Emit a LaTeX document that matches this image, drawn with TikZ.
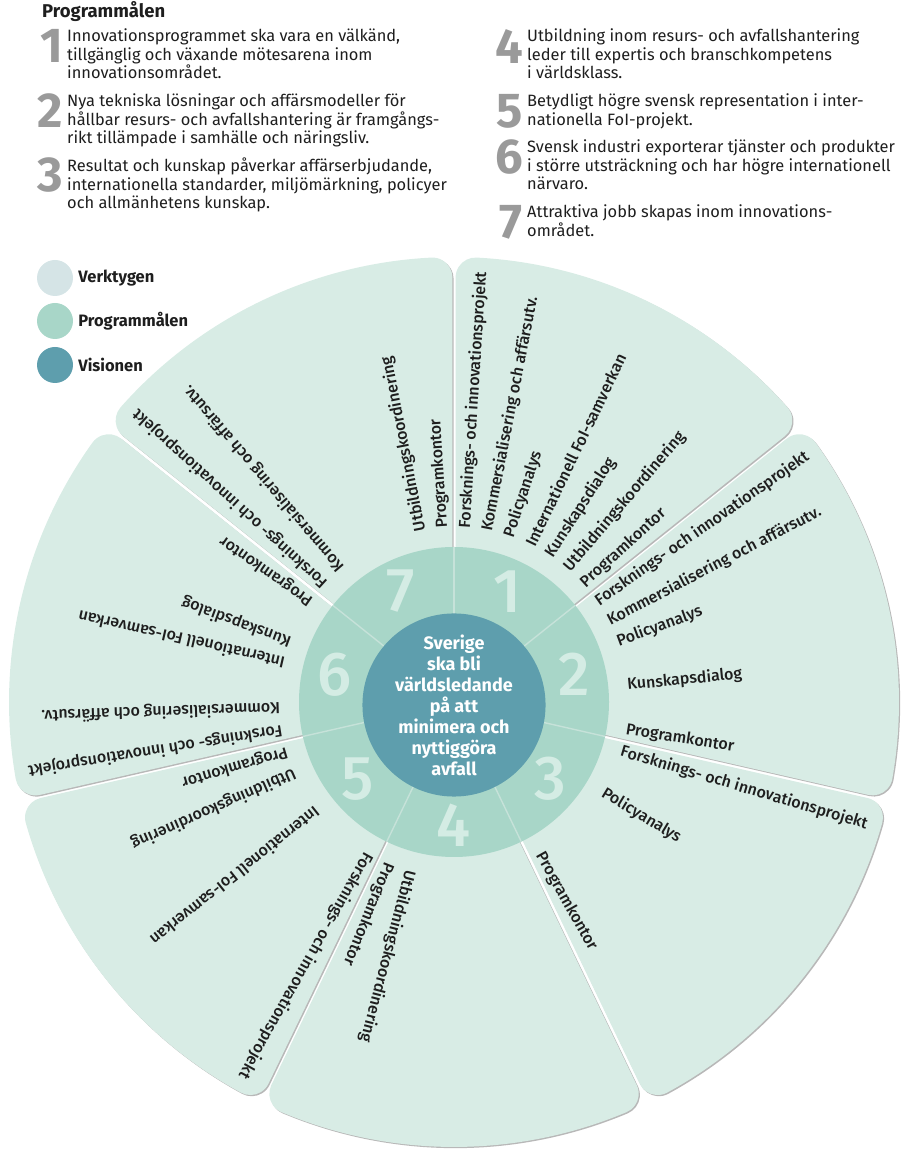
\documentclass[tikz,border=0pt]{standalone}
\usepackage{fontspec}
\setmainfont{Fira Sans}
\newfontfamily\medfont{Fira Sans Medium}
\usepackage{tikz}
\usetikzlibrary{calc,positioning}
\definecolor{mint}{HTML}{D8ECE5}
\definecolor{goalc}{HTML}{A8D6C8}
\definecolor{vision}{HTML}{5E9EAD}
\definecolor{tool}{HTML}{D5E4E6}
\definecolor{ringnumc}{HTML}{D4ECE4}
\definecolor{ringlinec}{HTML}{C6E2D9}
\definecolor{numgrey}{HTML}{9A9A9A}
\definecolor{ink}{HTML}{1E1E1E}

% one petal of the wheel: style, from angle, to angle
\def\Ro{445} \def\rc{20} \def\gp{1.6} \def\Ri{140}
\newcommand{\petal}[3]{%
  \pgfmathsetmacro\dlt{asin((\rc+\gp)/(\Ro-\rc))}%
  \pgfmathsetmacro\Lc{(\Ro-\rc)*cos(\dlt)}%
  \fill[#1] ($(O)+(#2:\Ri)+(#2+90:\gp)$) -- ($(O)+(#2:\Lc)+(#2+90:\gp)$)
    arc[start angle=#2-90,end angle=#2+\dlt,radius=\rc]
    arc[start angle=#2+\dlt,end angle=#3-\dlt,radius=\Ro]
    arc[start angle=#3-\dlt,end angle=#3+90,radius=\rc]
    -- ($(O)+(#3:\Ri)+(#3-90:\gp)$) -- cycle;}

\begin{document}
\begin{tikzpicture}[x=1pt,y=1pt,
  goal/.style={anchor=north west,align=left,inner sep=0pt,text=ink,
    font=\fontsize{16.4}{18.4}\selectfont},
  goalnum/.style={anchor=north east,inner sep=0pt,xshift=-4pt,text=numgrey,
    font=\fontsize{49}{49}\selectfont\bfseries},
  dot/.style={circle,inner sep=0pt,minimum size=36pt},
  legend/.style={inner sep=0pt,text=ink,font=\fontsize{16.5}{18}\selectfont\bfseries},
  shade/.style={fill=black!28,transform canvas={shift={(1.2,-1.2)}}},
  leaf/.style={fill=mint},
  ringline/.style={draw=ringlinec,line width=1.4pt},
  ringnum/.style={inner sep=0pt,text=ringnumc,font=\fontsize{62}{62}\selectfont\medfont},
  lbl/.style={anchor=west,inner sep=0pt,text=ink,font=\fontsize{16}{18}\selectfont\medfont}
]
\useasboundingbox (0,0) rectangle (912,1158);
\coordinate (O) at (454,456);

% Programmålen
\node[anchor=west,inner sep=0pt,text=ink,font=\fontsize{18.5}{20}\selectfont\bfseries] (head) at (42,1146) {Programmålen};
\node[goal] (t1) at (67,1129) {Innovationsprogrammet ska vara en välkänd,\\tillgänglig och växande mötesarena inom\\innovationsområdet.};
\node[goal] (t2) at (67,1064) {Nya tekniska lösningar och affärsmodeller för\\hållbar resurs- och avfallshantering är framgångs-\\rikt tillämpade i samhälle och näringsliv.};
\node[goal] (t3) at (67,1000) {Resultat och kunskap påverkar affärserbjudande,\\internationella standarder, miljömärkning, policyer\\och allmänhetens kunskap.};
\node[goal] (t4) at (527,1129) {Utbildning inom resurs- och avfallshantering\\leder till expertis och branschkompetens\\i världsklass.};
\node[goal] (t5) at (527,1064) {Betydligt högre svensk representation i inter-\\nationella FoI-projekt.};
\node[goal] (t6) at (527,1018) {Svensk industri exporterar tjänster och produkter\\i större utsträckning och har högre internationell\\närvaro.};
\node[goal] (t7) at (527,953) {Attraktiva jobb skapas inom innovations-\\området.};
\foreach \i in {1,...,7}
  \node[goalnum] (n\i) at (t\i.north west) {\i};

% legend
\node[dot,fill=tool] (dT) at (55,880) {};
\node[dot,fill=goalc] (dP) at (55,837) {};
\node[dot,fill=vision] (dV) at (55,793) {};
\node[legend,right=5pt of dT] (lT) {Verktygen};
\node[legend,right=5pt of dP] (lP) {Programmålen};
\node[legend,right=5pt of dV] (lV) {Visionen};

% verktygen
\foreach \k in {1,...,7} {
  \pgfmathsetmacro\aA{90-\k*360/7}
  \pgfmathsetmacro\aB{90-(\k-1)*360/7}
  \petal{shade}{\aA}{\aB}
}
\foreach \k in {1,...,7} {
  \pgfmathsetmacro\aA{90-\k*360/7}
  \pgfmathsetmacro\aB{90-(\k-1)*360/7}
  \petal{leaf}{\aA}{\aB}
}
\foreach \k/\j/\txt in {
  1/1/Forsknings- och innovationsprojekt, 1/2/Kommersialisering och affärsutv.,
  1/3/Policyanalys, 1/4/Internationell FoI-samverkan, 1/5/Kunskapsdialog,
  1/6/Utbildningskoordinering, 1/7/Programkontor,
  2/1/Forsknings- och innovationsprojekt, 2/2/Kommersialisering och affärsutv.,
  2/3/Policyanalys, 2/5/Kunskapsdialog, 2/7/Programkontor,
  3/1/Forsknings- och innovationsprojekt, 3/3/Policyanalys, 3/7/Programkontor,
  4/6/Utbildningskoordinering, 4/7/Programkontor,
  5/1/Forsknings- och innovationsprojekt, 5/4/Internationell FoI-samverkan,
  5/6/Utbildningskoordinering, 5/7/Programkontor,
  6/1/Forsknings- och innovationsprojekt, 6/2/Kommersialisering och affärsutv.,
  6/4/Internationell FoI-samverkan, 6/5/Kunskapsdialog, 6/7/Programkontor,
  7/1/Forsknings- och innovationsprojekt, 7/2/Kommersialisering och affärsutv.,
  7/6/Utbildningskoordinering, 7/7/Programkontor} {
  \pgfmathsetmacro\th{90-(\k-1)*360/7-(\j-0.5)*360/49}
  \node[lbl,rotate=\th] (l\k\j) at ($(O)+(\th:174)$) {\txt};
}

% programmålen ring
\fill[goalc] (O) circle[radius=155];
\foreach \k in {0,...,6} {
  \pgfmathsetmacro\b{90-\k*360/7}
  \draw[ringline] ($(O)+(\b:80)$) -- ($(O)+(\b:155)$);
}
\foreach \k in {1,...,7} {
  \pgfmathsetmacro\m{90-(\k-0.5)*360/7}
  \node[ringnum] (g\k) at ($(O)+(\m:123)$) {\k};
}

% visionen
\node[circle,fill=vision,minimum size=176pt,inner sep=0pt,align=center,text=white,
  font=\fontsize{18}{21}\selectfont\bfseries] (vis) at ($(O)+(0,-3)$)
  {Sverige\\ska bli\\världsledande\\på att\\minimera och\\nyttiggöra\\avfall};
\end{tikzpicture}
\end{document}
